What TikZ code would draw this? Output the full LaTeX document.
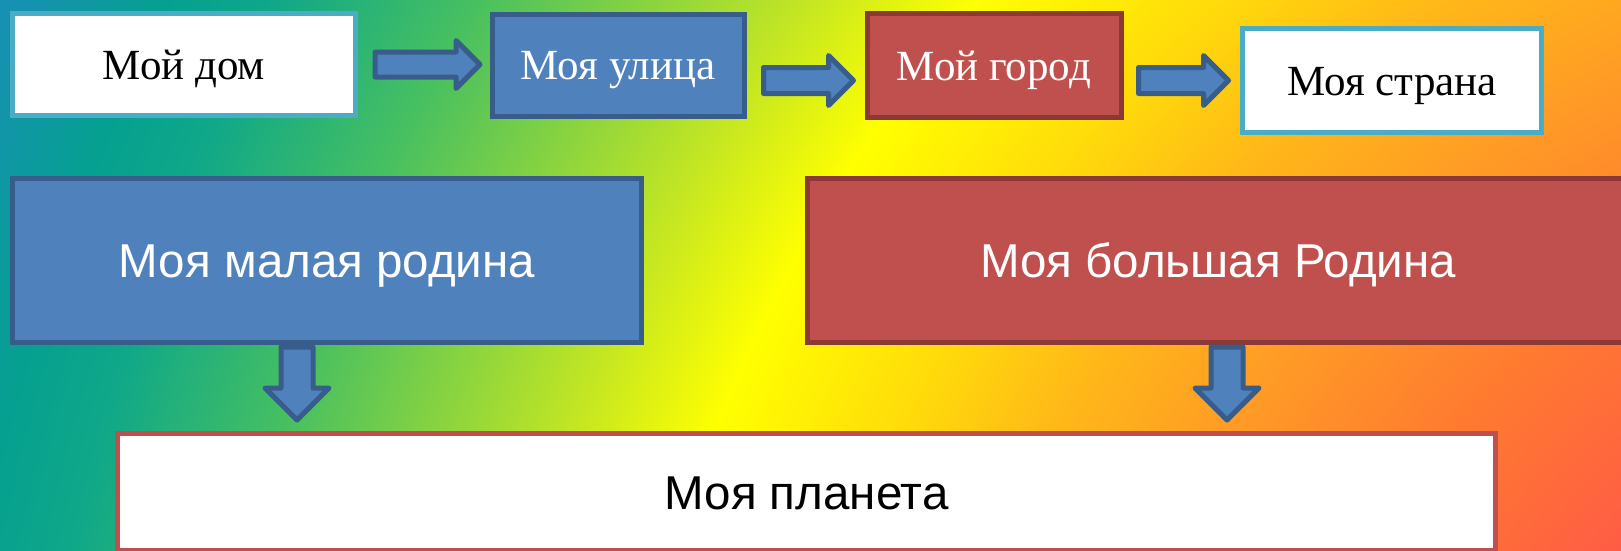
\documentclass[tikz,border=0pt]{standalone}
\usepackage{fontspec}
\setmainfont{Liberation Serif}
\setsansfont{Liberation Sans}
\usetikzlibrary{shapes.arrows}
\usetikzlibrary{calc}
\definecolor{boxblue}{HTML}{4F81BD}
\definecolor{lineblue}{HTML}{385D8A}
\definecolor{boxred}{HTML}{C0504D}
\definecolor{linered}{HTML}{8C3836}
\definecolor{linecyan}{HTML}{4BACC6}
\definecolor{bga}{HTML}{FF5848}
\definecolor{bgb}{HTML}{FF7A30}
\definecolor{bgc}{HTML}{FF9A26}
\definecolor{bgd}{HTML}{FFB818}
\definecolor{bge}{HTML}{FFDC0A}
\definecolor{bgf}{HTML}{FFFF00}
\definecolor{bgg}{HTML}{C8E820}
\definecolor{bgh}{HTML}{98D838}
\definecolor{bgi}{HTML}{48C060}
\definecolor{bgj}{HTML}{10A888}
\definecolor{bgk}{HTML}{05A090}
\definecolor{bgl}{HTML}{1890B5}
\pgfdeclareradialshading{rainbow}{\pgfpoint{0bp}{0bp}}{color(0bp)=(bga); color(6.8bp)=(bga); color(9.4bp)=(bgb); color(11.4bp)=(bgc); color(13.2bp)=(bgd); color(14.8bp)=(bge); color(16.7bp)=(bgf); color(18.1bp)=(bgg); color(19.3bp)=(bgh); color(21.3bp)=(bgi); color(23.3bp)=(bgj); color(24.4bp)=(bgk); color(26.1bp)=(bgl); color(50bp)=(bgl)}
\tikzstyle{topbox}=[rectangle,draw,line width=5pt,inner sep=0pt,text height=29pt,text depth=0pt,font=\rmfamily\fontsize{43}{50}\selectfont]
\tikzstyle{whitebox}=[topbox,fill=white,draw=linecyan,text=black]
\tikzstyle{bluebox}=[topbox,fill=boxblue,draw=lineblue,text=white]
\tikzstyle{redbox}=[topbox,fill=boxred,draw=linered,text=white]
\tikzstyle{bigbox}=[rectangle,draw,line width=5pt,inner sep=0pt,minimum height=164pt,text height=34pt,text depth=0pt,text=white,font=\sffamily\fontsize{47.5}{56}\selectfont]
\tikzstyle{blockarrow}=[single arrow,anchor=tail,fill=boxblue,draw=lineblue,line width=5pt,line join=round,inner xsep=0pt,single arrow tip angle=90]
\tikzstyle{rightarrow}=[blockarrow,minimum height=90pt,inner ysep=10.5pt,single arrow head extend=12pt]
\tikzstyle{downarrow}=[blockarrow,rotate=-90,minimum height=73pt,inner ysep=13.5pt,single arrow head extend=16pt]

\begin{document}
\begin{tikzpicture}[x=1pt,y=-1pt]

    \useasboundingbox (0,0) rectangle (1621,550);
    \clip (0,0) rectangle (1621,550);
    \shade[shading=rainbow] (-118,-1228) rectangle (4282,3172);

    % top row
    \node[whitebox,minimum width=343pt,minimum height=102pt] (home) at (184,64.5) {Мой дом};
    \node[bluebox,minimum width=252pt,minimum height=102pt] (street) at (618,65) {Моя улица};
    \node[redbox,minimum width=254pt,minimum height=104pt] (city) at (994,65.5) {Мой город};
    \node[whitebox,minimum width=299pt,minimum height=104pt] (country) at (1392,80.5) {Моя страна};

    \node[rightarrow,minimum height=105pt,inner ysep=10pt,single arrow head extend=11.5pt] (a1) at ($(home.east)+(14.5,0)$) {};
    \node[rightarrow] (a2) at ($(street.east |- country)+(14.5,0)$) {};
    \node[rightarrow] (a3) at ($(city.east |- country)+(12.5,0)$) {};

    % second row
    \node[bigbox,fill=boxblue,draw=lineblue,minimum width=629pt] (small) at (327,260.5) {Моя малая родина};
    \node[bigbox,fill=boxred,draw=linered,minimum width=821pt] (big) at (1218,260.5) {Моя большая Родина};

    \node[downarrow] (d1) at (297,344.5) {};
    \node[downarrow] (d2) at (1227,344.5) {};

    \node[bigbox,fill=white,draw=boxred,text=black,minimum width=1378pt,minimum height=117pt] (planet) at (806.5,492) {Моя планета};

\end{tikzpicture}
\end{document}
